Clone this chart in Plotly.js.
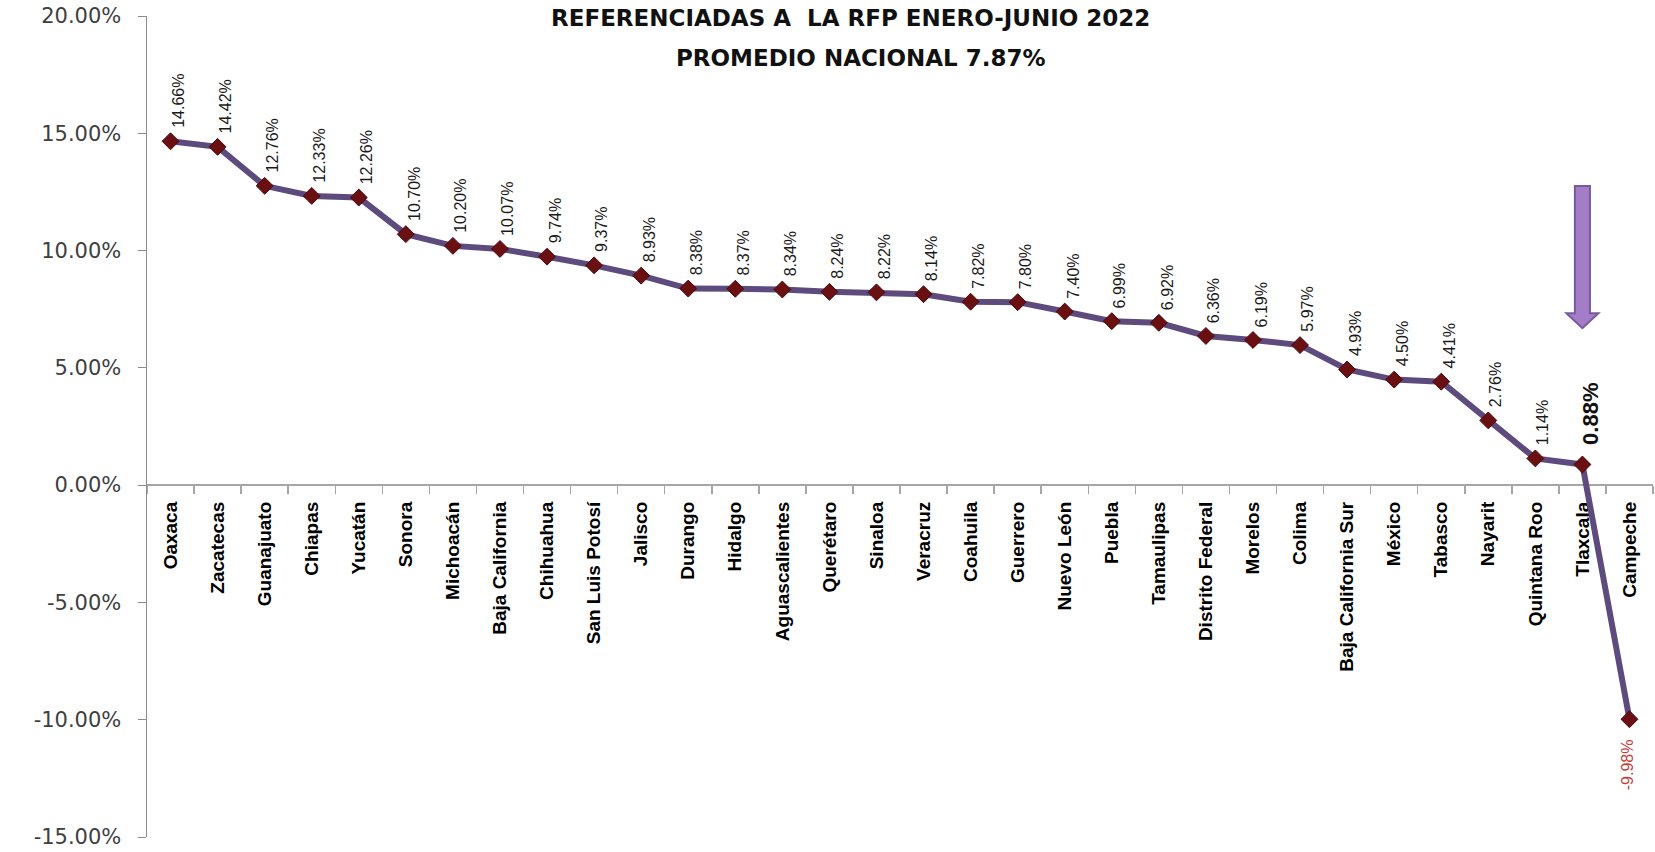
<!DOCTYPE html>
<html>
<head>
<meta charset="utf-8">
<script src="https://cdn.plot.ly/plotly-3.0.1.min.js"></script>
<style>html,body{margin:0;padding:0;background:#fff;}#chart{width:1655px;height:852px;}</style>
</head>
<body>
<div id="chart"></div>
<script>
const states = ["Oaxaca","Zacatecas","Guanajuato","Chiapas","Yucatán","Sonora","Michoacán","Baja California","Chihuahua","San Luis Potosí","Jalisco","Durango","Hidalgo","Aguascalientes","Querétaro","Sinaloa","Veracruz","Coahuila","Guerrero","Nuevo León","Puebla","Tamaulipas","Distrito Federal","Morelos","Colima","Baja California Sur","México","Tabasco","Nayarit","Quintana Roo","Tlaxcala","Campeche"];
const growthPct = [14.66,14.42,12.76,12.33,12.26,10.70,10.20,10.07,9.74,9.37,8.93,8.38,8.37,8.34,8.24,8.22,8.14,7.82,7.80,7.40,6.99,6.92,6.36,6.19,5.97,4.93,4.50,4.41,2.76,1.14,0.88,-9.98];
const yTickVals = [-0.15,-0.10,-0.05,0,0.05,0.10,0.15,0.20];
const yTickText = ["-15.00%","-10.00%","-5.00%","0.00%","5.00%","10.00%","15.00%","20.00%"];
const titleLine1 = "REFERENCIADAS A &nbsp;LA RFP ENERO-JUNIO 2022";
const titleLine2 = "PROMEDIO NACIONAL 7.87%";
const highlightState = "Tlaxcala";
const negativeState = "Campeche";

function hasFont(name){
  const c = document.createElement('canvas').getContext('2d');
  const t = 'Oaxaca Baja California 0123456789%';
  c.font = '20px monospace'; const w0 = c.measureText(t).width;
  c.font = '20px "' + name + '", monospace'; const w1 = c.measureText(t).width;
  return Math.abs(w0 - w1) > 0.5;
}
const narrow = hasFont('Liberation Sans Narrow');
const narrowFam = narrow ? '"Liberation Sans Narrow", "Liberation Sans", Arial, sans-serif' : '"Liberation Sans", Arial, sans-serif';
const catSize = narrow ? 22 : 19;
const lblSize = narrow ? 19 : 16;
const boldLblSize = narrow ? 26 : 22;

const yVals = growthPct.map(v => v / 100);

const trace = {
  type: 'scatter', mode: 'lines+markers',
  x: states, y: yVals,
  line: {color: '#5d4b7d', width: 6},
  marker: {symbol: 'diamond', size: 13, color: '#6a0f12', line: {color: '#4a0a0c', width: 1}},
  hoverinfo: 'x+y', showlegend: false
};

const annotations = [];
states.forEach((s, i) => {
  const v = growthPct[i];
  const txt = v.toFixed(2) + '%';
  if (s === negativeState) {
    annotations.push({x: s, y: yVals[i], xref: 'x', yref: 'y', text: txt, showarrow: false,
      textangle: -90, xanchor: 'center', yanchor: 'top', yshift: -18, xshift: -2,
      font: {family: narrowFam, size: lblSize, color: '#cc3a3a'}});
  } else if (s === highlightState) {
    annotations.push({x: s, y: yVals[i], xref: 'x', yref: 'y', text: '<b>' + txt + '</b>', showarrow: false,
      textangle: -90, xanchor: 'center', yanchor: 'bottom', yshift: 18, xshift: 8,
      font: {family: narrowFam, size: boldLblSize, color: '#111'}});
  } else {
    annotations.push({x: s, y: yVals[i], xref: 'x', yref: 'y', text: txt, showarrow: false,
      textangle: -90, xanchor: 'center', yanchor: 'bottom', yshift: 11, xshift: 8,
      font: {family: narrowFam, size: lblSize, color: '#1a1a1a'}});
  }
});
annotations.push({xref: 'paper', yref: 'paper', x: 0.467, y: 0.997, xanchor: 'center', yanchor: 'middle',
  text: '<b>' + titleLine1 + '</b>', showarrow: false,
  font: {family: '"DejaVu Sans", sans-serif', size: 23, color: '#111'}});
annotations.push({xref: 'paper', yref: 'paper', x: 0.474, y: 0.949, xanchor: 'center', yanchor: 'middle',
  text: '<b>' + titleLine2 + '</b>', showarrow: false,
  font: {family: '"DejaVu Sans", sans-serif', size: 23, color: '#111'}});

// downward arrow pointing at the highlighted state
const ai = states.indexOf(highlightState);
const sw = 0.16, hw = 0.34, yTop = 0.1275, yHead = 0.0733, yTip = 0.0669;
const arrowPath = 'M' + (ai - sw) + ',' + yTop + ' L' + (ai + sw) + ',' + yTop + ' L' + (ai + sw) + ',' + yHead +
  ' L' + (ai + hw) + ',' + yHead + ' L' + ai + ',' + yTip + ' L' + (ai - hw) + ',' + yHead +
  ' L' + (ai - sw) + ',' + yHead + ' Z';

const layout = {
  width: 1655, height: 852,
  margin: {l: 147, r: 2, t: 16, b: 15},
  paper_bgcolor: '#fff', plot_bgcolor: '#fff',
  showlegend: false,
  xaxis: {
    type: 'category', range: [-0.5, states.length - 0.5],
    anchor: 'free', position: 15 / 35,
    showline: true, linecolor: '#a6a6a6', linewidth: 2,
    ticks: 'outside', tickson: 'boundaries', ticklen: 8, tickcolor: '#a6a6a6', tickwidth: 1.5,
    tickangle: -90, ticklabelstandoff: 8,
    tickfont: {family: narrowFam, size: catSize, color: '#000', weight: 'bold'},
    showgrid: false, zeroline: false, layer: 'below traces', fixedrange: true
  },
  yaxis: {
    range: [-0.15, 0.20], tickmode: 'array', tickvals: yTickVals, ticktext: yTickText,
    ticklabeloverflow: 'allow',
    showline: true, linecolor: '#8c8c8c', linewidth: 1.5,
    ticks: 'outside', ticklen: 8, tickcolor: '#8c8c8c',
    ticklabelstandoff: 12,
    tickfont: {family: '"DejaVu Sans", sans-serif', size: 21, color: '#404040'},
    showgrid: false, zeroline: false, fixedrange: true
  },
  shapes: [{type: 'path', xref: 'x', yref: 'y', path: arrowPath,
    fillcolor: '#a47dc8', line: {color: '#7a5a9e', width: 2}, layer: 'above'}],
  annotations: annotations
};

Plotly.newPlot('chart', [trace], layout, {displayModeBar: false, staticPlot: true});
</script>
</body>
</html>
